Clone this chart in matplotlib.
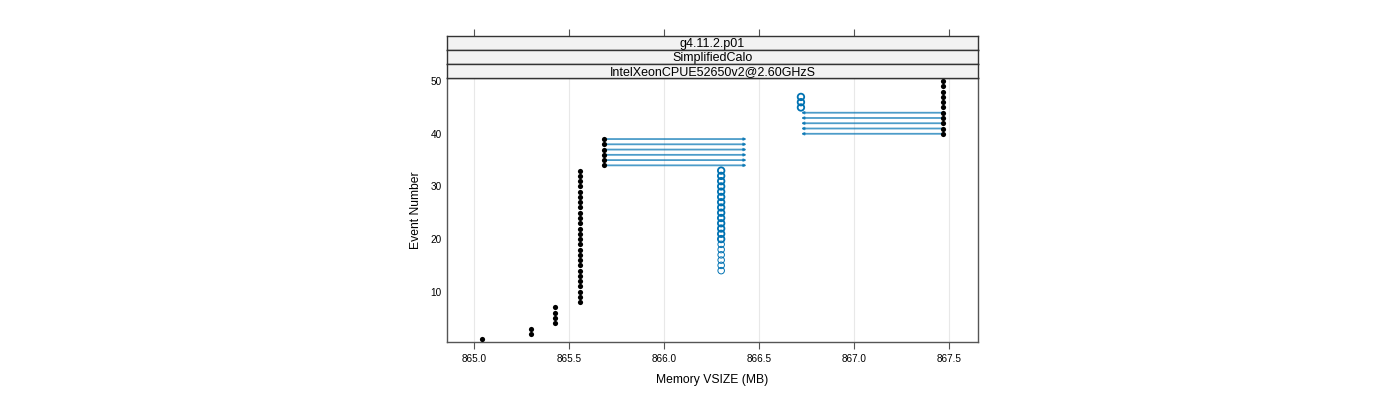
import numpy as np
import matplotlib
matplotlib.use("Agg")
import matplotlib.pyplot as plt

plt.rcParams['font.family'] = ['Liberation Sans', 'DejaVu Sans']

# event ranges (first, last) and VSIZE at event start (black dots)
blk_first = [1, 2, 4, 8, 34, 40]
blk_last = [1, 3, 7, 33, 39, 50]
blk_vsize = [865.04, 865.30, 865.425, 865.555, 865.685, 867.47]

# open circles (blue)
opn_first = [14, 20, 45]
opn_last = [19, 33, 47]
opn_vsize = [866.30, 866.30, 866.72]
opn_dark = [False, True, True]

# arrows: events, from -> to
arr_first = [34, 40]
arr_last = [39, 44]
arr_from = [865.685, 867.47]
arr_to = [866.435, 866.72]

strips = ["g4.11.2.p01", "SimplifiedCalo", "IntelXeonCPUE52650v2@2.60GHzS"]
xticks = [865.0, 865.5, 866.0, 866.5, 867.0, 867.5]
yticks = [10, 20, 30, 40, 50]

blue = '#0072B2'
frame = '#555555'
xlim = (864.858, 867.651)

fig = plt.figure(figsize=(14, 4), dpi=100)
ax = fig.add_axes([0.3195, 0.14575, 0.3789, 0.6593])

for x in xticks:
    ax.axvline(x, color='#e8e8e8', lw=0.8, zorder=0)

# arrows from start to end VSIZE
for f, l, x0, x1 in zip(arr_first, arr_last, arr_from, arr_to):
    for ev in range(f, l + 1):
        ax.annotate('', xy=(x1, ev), xytext=(x0, ev),
                    arrowprops=dict(arrowstyle='-|>', lw=1.3, color=blue, alpha=0.7,
                                    mutation_scale=3, shrinkA=0, shrinkB=0), zorder=2)

for f, l, v, dark in zip(opn_first, opn_last, opn_vsize, opn_dark):
    ev = np.arange(f, l + 1)
    ax.scatter(np.full(len(ev), v), ev, s=22, facecolors='none',
               edgecolors=blue, linewidths=1.3 if dark else 0.7, zorder=3)

for f, l, v in zip(blk_first, blk_last, blk_vsize):
    ev = np.arange(f, l + 1)
    ax.scatter(np.full(len(ev), v), ev, s=14, color='black', lw=0, zorder=4)

ax.set_xlim(*xlim)
ax.set_ylim(0.5, 50.6)
ax.set_xticks(xticks)
ax.set_xticklabels([f"{x:.1f}" for x in xticks])
ax.set_yticks(yticks)
ax.tick_params(axis='x', direction='out', length=5, width=0.8, color=frame,
               labelsize=7.2, pad=4)
ax.tick_params(axis='y', length=0, labelsize=7.2, pad=4)
for s in ax.spines.values():
    s.set_color(frame)
    s.set_linewidth(1.0)
ax.set_xlabel("Memory VSIZE (MB)", fontsize=8.7, labelpad=7)
ax.set_ylabel("Event Number", fontsize=8.7, labelpad=6)

# strips
h = 0.035
for i, txt in enumerate(strips):
    bottom = 0.805 + (len(strips) - 1 - i) * h
    sa = fig.add_axes([0.3195, bottom, 0.3789, h])
    sa.set_facecolor('#f2f2f2')
    sa.set_xlim(*xlim)
    sa.set_yticks([])
    for s in sa.spines.values():
        s.set_color('#333333')
        s.set_linewidth(1.0)
    sa.text(0.5, 0.45, txt, transform=sa.transAxes, ha='center', va='center', fontsize=9)
    if i == 0:
        sa.set_xticks(xticks)
        sa.tick_params(axis='x', bottom=False, top=True, labelbottom=False,
                       labeltop=False, direction='out', length=5, width=0.8, color=frame)
    else:
        sa.set_xticks([])

fig.savefig("out.png", dpi=100)
